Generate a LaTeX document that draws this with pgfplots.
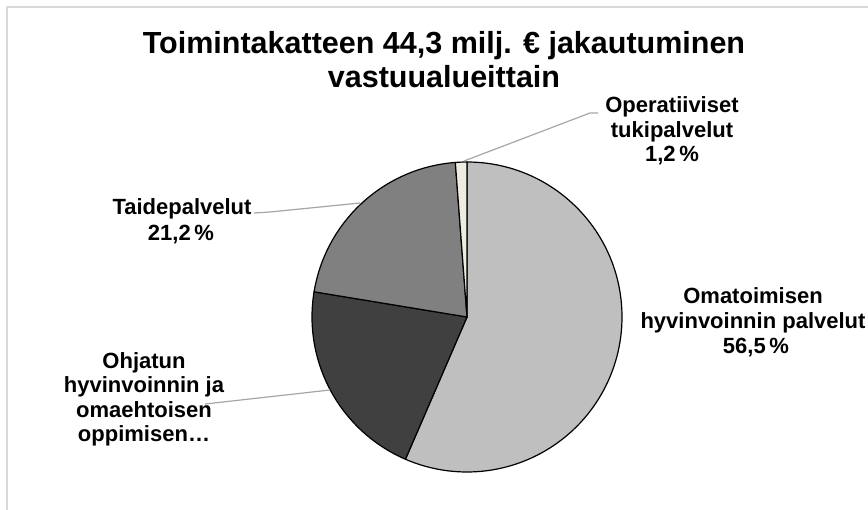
\documentclass[border=0pt]{standalone}
\usepackage{pgfplots}
\pgfplotsset{compat=1.18}
\usepackage{pgfplotstable}
\usepackage{fontspec}
\setmainfont{Liberation Sans}
\definecolor{omat}{HTML}{BFBFBF}
\definecolor{ohj}{HTML}{404040}
\definecolor{taide}{HTML}{808080}
\definecolor{oper}{HTML}{EEECE1}
\definecolor{leader}{HTML}{A6A6A6}
\definecolor{framec}{HTML}{D9D9D9}
\newcommand\lab{\fontsize{22bp}{24.5bp}\selectfont\bfseries}
\newcommand\ttl{\fontsize{30.5bp}{35bp}\selectfont\bfseries}

\pgfplotstableread{
name value
Omatoimisen 56.5
Ohjatun 21.1
Taide 21.2
Oper 1.2
}\piedata

\begin{document}
\begin{tikzpicture}
\pgfplotstablegetelem{0}{value}\of\piedata \let\vA\pgfplotsretval
\pgfplotstablegetelem{1}{value}\of\piedata \let\vB\pgfplotsretval
\pgfplotstablegetelem{2}{value}\of\piedata \let\vC\pgfplotsretval
\pgfplotstablegetelem{3}{value}\of\piedata \let\vD\pgfplotsretval
\pgfmathsetmacro\aA{90}
\pgfmathsetmacro\aB{\aA-3.6*\vA}
\pgfmathsetmacro\aC{\aB-3.6*\vB}
\pgfmathsetmacro\aD{\aC-3.6*\vC}
\pgfmathsetmacro\aE{\aD-3.6*\vD}
\path[use as bounding box] (0,0) rectangle (868bp,510bp);
\begin{axis}[width=868bp,height=510bp,scale only axis,
  xmin=0,xmax=868,ymin=0,ymax=510,hide axis,clip=false]
% frame
\draw[framec,line width=1.5bp] (axis cs:7,0) -- (axis cs:7,503) -- (axis cs:868,503);
% slices
\filldraw[fill=omat,draw=black,line width=1.2bp,line join=round] (axis cs:467,193) -- ++(\aA:155bp) arc[start angle=\aA,end angle=\aB,radius=155bp] -- cycle;
\filldraw[fill=ohj,draw=black,line width=1.2bp,line join=round] (axis cs:467,193) -- ++(\aB:155bp) arc[start angle=\aB,end angle=\aC,radius=155bp] -- cycle;
\filldraw[fill=taide,draw=black,line width=1.2bp,line join=round] (axis cs:467,193) -- ++(\aC:155bp) arc[start angle=\aC,end angle=\aD,radius=155bp] -- cycle;
\filldraw[fill=oper,draw=black,line width=1.2bp,line join=round] (axis cs:467,193) -- ++(\aD:155bp) arc[start angle=\aD,end angle=\aE,radius=155bp] -- cycle;
% leader lines
\draw[leader,line width=1.2bp] (axis cs:464,349) -- (axis cs:590,397) -- (axis cs:598,397);
\draw[leader,line width=1.2bp] (axis cs:254,297) -- (axis cs:270,298) -- (axis cs:360,307);
\draw[leader,line width=1.2bp] (axis cs:205,106) -- (axis cs:330,120);
% title
\node[anchor=base,inner sep=0,font=\ttl] at (axis cs:444,456.7) {Toimintakatteen 44,3 milj. € jakautuminen};
\node[anchor=base,inner sep=0,font=\ttl] at (axis cs:444,422) {vastuualueittain};
% labels
\node[anchor=base,inner sep=0,font=\lab] at (axis cs:672,397) {Operatiiviset};
\node[anchor=base,inner sep=0,font=\lab] at (axis cs:672,373) {tukipalvelut};
\node[anchor=base,inner sep=0,font=\lab] at (axis cs:672,348.5) {1,2\,\%};
\node[anchor=base,inner sep=0,font=\lab] at (axis cs:182,296) {Taidepalvelut};
\node[anchor=base,inner sep=0,font=\lab] at (axis cs:181,270) {21,2\,\%};
\node[anchor=base,inner sep=0,font=\lab] at (axis cs:753,207) {Omatoimisen};
\node[anchor=base,inner sep=0,font=\lab] at (axis cs:753,182) {hyvinvoinnin palvelut};
\node[anchor=base,inner sep=0,font=\lab] at (axis cs:756,157) {56,5\,\%};
\node[anchor=base,inner sep=0,font=\lab] at (axis cs:144,142) {Ohjatun};
\node[anchor=base,inner sep=0,font=\lab] at (axis cs:144,117.5) {hyvinvoinnin ja};
\node[anchor=base,inner sep=0,font=\lab] at (axis cs:144,93) {omaehtoisen};
\node[anchor=base,inner sep=0,font=\lab] at (axis cs:144,68.5) {oppimisen…};
\end{axis}
\end{tikzpicture}
\end{document}
